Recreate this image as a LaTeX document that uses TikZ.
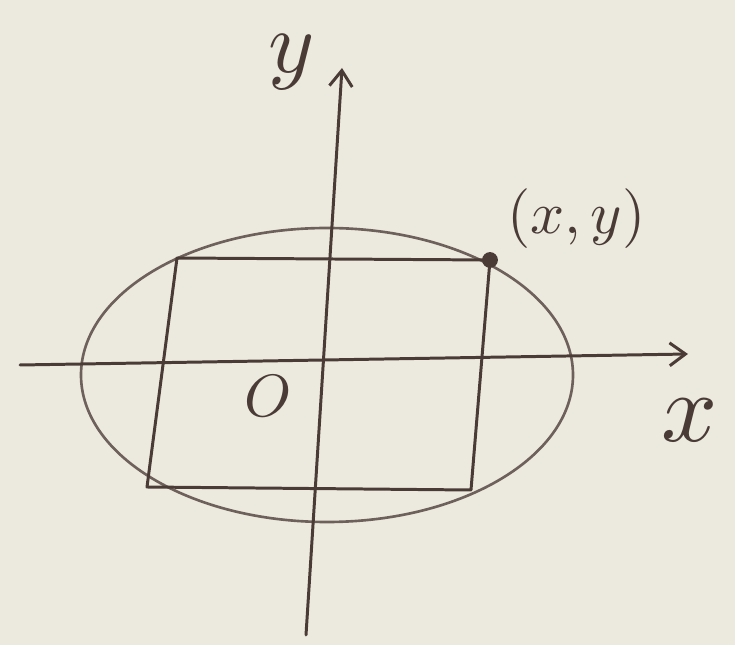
\documentclass[tikz,border=0pt]{standalone}
\usepackage{amsmath}
\usepackage{tikz}
\usetikzlibrary{positioning, arrows.meta}
\definecolor{paper}{HTML}{ECEADF}
\definecolor{pencil}{HTML}{4A3B37}
\definecolor{pencillight}{HTML}{6E605B}

\begin{document}
\begin{tikzpicture}[x=0.02cm, y=-0.02cm, line cap=round, line join=round,
    >={Straight Barb[length=9pt, width=13pt]}]
    % Paper
    \fill[paper] (0,0) rectangle (735,645);
    \useasboundingbox (0,0) rectangle (735,645);
    \tikzset{
        pen/.style={draw=pencil, line width=1.7pt},
        lbl/.style={text=pencil, inner sep=0pt, scale=3.4}
    }

    % Axes end points
    \coordinate (xstart) at (20,365);
    \coordinate (xend) at (688,354);
    \coordinate (ystart) at (306,635);
    \coordinate (yend) at (342,68);

    % Ellipse
    \draw[pen, draw=pencillight, line width=1.5pt] (327,375) ellipse [x radius=246, y radius=147];

    % Inscribed rectangle
    \coordinate (TL) at (177,258);
    \coordinate (TR) at (490,260);
    \coordinate (BR) at (471,490);
    \coordinate (BL) at (147,487);
    \draw[pen] (TL) -- (TR) -- (BR) -- (BL) -- cycle;

    % Axes
    \draw[pen, ->] (xstart) -- (xend);
    \draw[pen, ->] (ystart) -- (yend);

    % Point on the ellipse
    \node[circle, fill=pencil, inner sep=0pt, minimum size=9pt] (P) at (TR) {};

    % Labels
    \node[lbl, above right=0.1cm and 0.2cm of P] (Plab) {$(x,y)$};
    \node[lbl] (O) at (268,396) {$O$};
    \node[lbl, scale=5.6/3.4] (xlab) at (690,420) {$x$};
    \node[lbl, scale=5/3.4] (ylab) at (292,62) {$y$};
\end{tikzpicture}
\end{document}
